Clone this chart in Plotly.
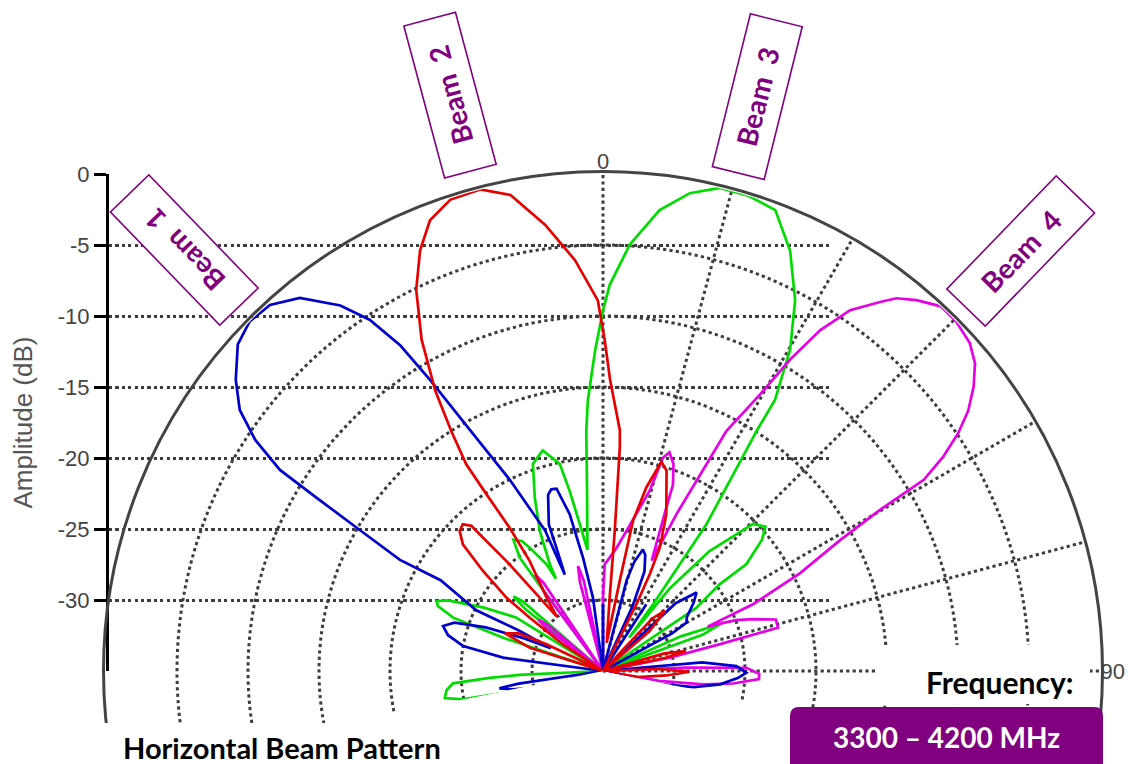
import math
import plotly.graph_objects as go

# ---------------- data ----------------
# angle: degrees clockwise from boresight (0 = up); value: relative amplitude in dB (clipped at -35)
beam1_theta = [-107, -104, -101.5, -99.5, -98.5, -97.5,
               -84, -82.4, -79.9, -77, -74.3, -72, -69.6, -67.5, -66.5,
               -64.3, -64.4, -60.8, -61.3, -59.9, -58.9, -58.1, -56.4, -54.3, -51.6, -48.2, -45.3,
               -42.3, -39.1, -35.7, -33.6, -31.9, -30.7, -28.9, -26, -22.4, -21.6,
               -20.8, -20.3, -17.3, -15.9, -14.3, -12, -10, -7.8, -5.5,
               -2, 0, 2,
               12, 14.6, 16, 18.2, 20, 22.6, 24.5, 26,
               31, 33, 35,
               45, 47, 50, 53, 57.4, 59.9, 61.5, 63,
               82, 85, 87.9, 90.7, 93, 96.5, 100, 104, 106]
beam1_db = [-35, -30.2, -28.5, -27.6, -29, -35,
            -35, -27.9, -25, -23.8, -23.3, -24, -26.2, -29, -31,
            -28.5, -25.1, -21.9, -18.7, -15.2, -11.7, -8.2, -5.6, -3.5, -2.0, -0.5, 0,
            -0.15, -1.15, -3.3, -5.3, -8.0, -11.2, -15.6, -20, -24.3, -27.7,
            -26, -24, -22, -21.7, -21.75, -23.7, -26.9, -29.8, -35,
            -35, -30.3, -35,
            -35, -28.4, -27, -26, -26.3, -27.4, -30, -35,
            -35, -29.4, -35,
            -35, -28, -26.4, -27, -28, -28.2, -29.5, -35,
            -35, -28, -25.6, -24.9, -25.5, -26.7, -28.5, -31.4, -35]

beam2_theta = [-76, -72.4, -69, -66, -64.7, -63,
               -58, -56.3, -54, -52.8, -50.2, -47.9, -45.7, -43.7, -42.2, -41.9, -41.3, -40.3,
               -38, -33.7, -33.1, -33.4, -33.5, -32.3, -30.9, -28.7, -26.1, -23.5, -21, -17.9,
               -14.3, -11, -7.4, -3.9, -0.8, 0.3, 1.4, 4, 4.3, 4.8, 5.2, 7.5,
               10.5, 11.3, 13.3, 15.6, 17.6, 22, 24.7, 25.8, 26.6, 28,
               40, 43.2, 45.8, 49.4, 52,
               70, 74, 76.5, 78, 81,
               86, 88, 90.5, 94, 100, 104]
beam2_db = [-35, -29.6, -27.6, -28.5, -30.6, -35,
            -35, -31.6, -28.6, -26.5, -24, -21.7, -20.9, -20.7, -21.2, -22.7, -24.7, -30,
            -28.7, -25.7, -23, -20.1, -17.55, -15, -12, -8.4, -5.1, -2.7, -1.0, -0.1,
            0, -0.85, -3.3, -6, -8.9, -11.7, -14.5, -18, -19.2, -25.1, -29.8, -33,
            -28.6, -24.2, -21.7, -19.7, -20.2, -23.1, -25.4, -27.4, -29.7, -35,
            -35, -29.9, -28.9, -30.7, -35,
            -35, -30.5, -29, -30.5, -35,
            -35, -31, -28.9, -30.5, -32.5, -35]

beam3_theta = [-107, -104, -101.4, -99.7, -97, -94.7, -93.5, -92.7, -91,
               -72.5, -71.6, -70.4, -68.5, -67.2, -65.5, -62, -58.4, -56.5,
               -53, -51.5, -50.2, -49, -47,
               -39, -36.5, -36.3, -34.3, -32, -30.7, -27.9, -27,
               -26.5, -24.3, -21.5, -18.7, -15.3, -11.8, -10.5, -9, -7.3,
               -5, -4, -3.2, -1.4, 0, 1, 3.6, 7, 10.3, 13.6, 17, 20.5, 24, 27.4, 30.2,
               32.4, 32.6, 35.2, 36.9, 38,
               39, 41.6, 45.6, 48.4, 50.5, 53.3, 53.4, 55.9, 57.5,
               64, 66, 68.2, 70, 72]
beam3_db = [-35, -30.2, -24.9, -23.7, -23.9, -24.4, -27, -29.1, -35,
            -35, -27.6, -23.8, -22.5, -22.3, -23, -25.5, -27.8, -35,
            -35, -28, -26.8, -27.5, -35,
            -35, -27.1, -25.1, -23.8, -24.2, -24.9, -26.5, -27.7,
            -26.6, -24.2, -21.9, -19.6, -18.9, -20.1, -22.1, -24.5, -26.4,
            -22.1, -18.1, -15.9, -12.4, -9.6, -7.8, -4.9, -2.3, -0.8, 0, 0, -0.35, -2.6, -5.6, -8.8,
            -12.4, -14.9, -22.4, -29.1, -32,
            -27.5, -23.7, -20.2, -19.7, -20.5, -22.4, -24.8, -27.1, -35,
            -35, -29, -26.1, -27.5, -35]

beam4_theta = [-55, -53, -51.5, -50, -48,
               -39, -36.5, -35.2, -34, -32,
               -16, -14.5, -13.4, -12, -10,
               -1.5, 0, 0.9, 6.2, 9.5, 14.5, 15.7, 16.9, 18.8, 20.6, 21.2, 23.8,
               25.1, 26.6, 27.2, 29.6, 31, 32.5, 34.4, 36.9, 38.2, 40.2, 42.8, 45.2, 48.2,
               50.4, 52.5, 54.5, 56.2, 57.8, 59.2, 59.8, 61.1, 63.6, 66, 67,
               69, 71, 73.4, 76.1, 77.1, 78.7, 80,
               84, 87.7, 88.7, 91, 93, 95.5, 97.6, 100, 102,
               104, 106.2, 108]
beam4_db = [-35, -30, -29.2, -30, -35,
            -35, -28, -26.7, -27.5, -35,
            -35, -28.5, -27.4, -28.5, -35,
            -35, -29.8, -27.5, -26.3, -25, -21.9, -19.4, -18.9, -19.6, -21, -22.7, -26.5,
            -22.8, -18.7, -16, -12.6, -9.4, -6.55, -4.2, -2.5, -1.6, -0.8, 0, 0, -0.35,
            -1.0, -2.1, -3.4, -4.9, -6.7, -8.7, -12.4, -15.9, -19.5, -23.4, -27,
            -25, -23.8, -22.3, -22.3, -26.6, -30.2, -35,
            -35, -29.1, -24.9, -24, -24, -25.8, -27.9, -31, -35,
            -35, -29.1, -35]

beam_names = ["Beam 1", "Beam 2", "Beam 3", "Beam 4"]
beam_colors = ["#0000CC", "#E60000", "#00DC00", "#E600E6"]
beam_label_text = ["Beam\u00a0\u00a01", "Beam\u00a0\u00a02", "Beam\u00a0\u00a03", "Beam\u00a0\u00a04"]

amp_ticks = [-30, -25, -20, -15, -10, -5, 0]
amp_ticktext = ["-30", "-25", "-20", "-15", "-10", "-5", "0"]
long_grid_ticks = [-30, -25, -20, -15, -10, -5]
ring_ticks = [-30, -25, -20, -15, -10, -5, 0]
angle_ticks = [0, 15, 30, 45, 60, 75, 90, 105, 120, 135, 150, 165,
               180, 195, 210, 225, 240, 255, 270, 285, 300, 315, 330, 345]
angle_ticktext = ["0", "", "", "", "", "", "90", "", "", "", "", "",
                  "", "", "", "", "", "", "", "", "", "", "", ""]

# ---------------- layout geometry (pixels of the target picture) ----------------
W, H = 1134, 764
OFF = 8.0                             # page offset of the plot inside the browser window
CX, CY, R = 603.0, 671.0, 497.0       # polar centre and radius
RIM = R + 2.5                         # solid outer rim drawn just outside the 0 dB ring
AXIS_X = 109.0                        # left amplitude axis position
GRID_END_X = 830.0                    # right end of the horizontal grid lines
TOP_GRID_END_X = 620.0                # the 0 dB line stops at the rim
# widest sector below horizontal that still fits inside the figure
PAD = math.degrees(math.asin(min(0.999, (H - (CY - OFF)) / R))) - 0.2


def fx(x):
    return (x - OFF) / W


def fy(y):
    return 1.0 - (y - OFF) / H


sa = math.sin(math.radians(PAD))
GRID = "#3d3d3d"
GW = 3.2
PURPLE = "#800080"
BOLD_FONT = "Lato, Open Sans, sans-serif"
TICK_FONT = dict(family="Liberation Sans, Arial", size=22, color="#444444")

fig = go.Figure()

# draw order: green, magenta, blue, red (red on top)
traces = [(beam3_theta, beam3_db, 2), (beam4_theta, beam4_db, 3),
          (beam1_theta, beam1_db, 0), (beam2_theta, beam2_db, 1)]
for th, db, i in traces:
    fig.add_trace(go.Scatterpolar(
        theta=th, r=db, mode="lines", name=beam_names[i],
        line=dict(color=beam_colors[i], width=2.7),
        showlegend=False, hoverinfo="skip"))

# carriers for the two cartesian amplitude subplots
fig.add_trace(go.Scatter(x=[], y=[], xaxis="x", yaxis="y", showlegend=False, hoverinfo="skip"))
fig.add_trace(go.Scatter(x=[], y=[], xaxis="x2", yaxis="y2", showlegend=False, hoverinfo="skip"))

amp_domain = [fy(CY), fy(CY - R)]

fig.update_layout(
    width=W, height=H,
    margin=dict(l=0, r=0, t=0, b=0, autoexpand=False),
    paper_bgcolor="white",
    plot_bgcolor="rgba(0,0,0,0)",
    showlegend=False,
    polar=dict(
        domain=dict(x=[fx(CX - R), fx(CX + R)], y=[fy(CY + R * sa), fy(CY - R)]),
        sector=[-PAD, 180 + PAD],
        bgcolor="rgba(0,0,0,0)",
        angularaxis=dict(
            rotation=90, direction="clockwise",
            tickmode="array", tickvals=angle_ticks, ticktext=angle_ticktext,
            ticks="", showline=False,
            showgrid=True, gridcolor=GRID, gridwidth=GW, griddash="dot",
            tickfont=TICK_FONT,
        ),
        radialaxis=dict(
            range=[-35, 0], tickmode="array", tickvals=ring_ticks,
            showticklabels=False, ticks="", showline=False,
            showgrid=True, gridcolor=GRID, gridwidth=GW, griddash="dot",
        ),
    ),
    # long horizontal grid lines (-30 ... -5 dB)
    xaxis=dict(domain=[fx(AXIS_X), fx(GRID_END_X)], range=[0, 1], visible=False,
               fixedrange=True, automargin=False),
    yaxis=dict(
        domain=amp_domain, range=[-35, 0], anchor="x", automargin=False,
        tickmode="array", tickvals=long_grid_ticks, showticklabels=False, ticks="",
        showline=False, showgrid=True, gridcolor=GRID, gridwidth=GW, griddash="dot",
        zeroline=False, fixedrange=True,
    ),
    # amplitude axis with labels; its grid stops at the rim (0 dB line)
    xaxis2=dict(domain=[fx(AXIS_X), fx(TOP_GRID_END_X)], range=[0, 1], visible=False,
                fixedrange=True, automargin=False),
    yaxis2=dict(
        domain=amp_domain, range=[-35, 0], anchor="x2", automargin=False,
        tickmode="array", tickvals=amp_ticks, ticktext=amp_ticktext,
        showline=True, linecolor="black", linewidth=3,
        ticks="outside", ticklen=12, tickwidth=2.5, tickcolor="black",
        tickfont=TICK_FONT,
        showgrid=True, gridcolor=GRID, gridwidth=GW, griddash="dot",
        zeroline=False, fixedrange=True,
        title=dict(text="Amplitude (dB)", standoff=18,
                   font=dict(family="Liberation Sans, Arial", size=26, color="#555555")),
    ),
)

# ---------------- overlays ----------------
# outer rim of the polar plot
fig.add_shape(type="circle", xref="paper", yref="paper",
              x0=fx(CX - RIM), x1=fx(CX + RIM), y0=fy(CY + RIM), y1=fy(CY - RIM),
              line=dict(color="#444444", width=3), fillcolor="rgba(0,0,0,0)", layer="above")
# white band that ends the polar picture at the bottom
fig.add_shape(type="rect", xref="paper", yref="paper",
              x0=0, x1=1.05, y0=-0.2, y1=fy(723), fillcolor="white", line_width=0, layer="above")
# white box behind "Frequency:"
fig.add_shape(type="rect", xref="paper", yref="paper",
              x0=fx(877), x1=fx(1090), y0=fy(704), y1=fy(645),
              fillcolor="white", line_width=0, layer="above")
# purple rounded box
bx0, bx1, by0, by1, rr = 790.0, 1103.0, 707.0, 800.0, 9.0
path = (f"M {fx(bx0 + rr)},{fy(by0)} L {fx(bx1 - rr)},{fy(by0)} "
        f"Q {fx(bx1)},{fy(by0)} {fx(bx1)},{fy(by0 + rr)} "
        f"L {fx(bx1)},{fy(by1)} L {fx(bx0)},{fy(by1)} "
        f"L {fx(bx0)},{fy(by0 + rr)} Q {fx(bx0)},{fy(by0)} {fx(bx0 + rr)},{fy(by0)} Z")
fig.add_shape(type="path", xref="paper", yref="paper", path=path,
              fillcolor=PURPLE, line_width=0, layer="above")

# beam labels (rotated boxes)
label_pos = [(185, 250, -134), (450.5, 95, -105), (757.5, 96.7, -76), (1020, 251, -46)]
for (x, y, ang), txt in zip(label_pos, beam_label_text):
    fig.add_annotation(
        x=fx(x), y=fy(y), xref="paper", yref="paper", xanchor="center", yanchor="middle",
        text=f"<b>{txt}</b>", showarrow=False, textangle=ang,
        width=150, height=46, align="center", valign="middle",
        bgcolor="white", bordercolor=PURPLE, borderwidth=1.6, borderpad=3,
        font=dict(family=BOLD_FONT, size=28, color=PURPLE))

fig.add_annotation(x=fx(999.5), y=fy(682), xref="paper", yref="paper",
                   xanchor="center", yanchor="middle", showarrow=False,
                   text="<b>Frequency:</b>",
                   font=dict(family=BOLD_FONT, size=30, color="black"))
fig.add_annotation(x=fx(946), y=fy(737), xref="paper", yref="paper",
                   xanchor="center", yanchor="middle", showarrow=False,
                   text="<b>3300 – 4200 MHz</b>",
                   font=dict(family=BOLD_FONT, size=28, color="white"))
fig.add_annotation(x=fx(281.5), y=fy(747), xref="paper", yref="paper",
                   xanchor="center", yanchor="middle", showarrow=False,
                   text="<b>Horizontal Beam Pattern</b>",
                   font=dict(family=BOLD_FONT, size=29, color="black"))

fig.write_html("out.html")
